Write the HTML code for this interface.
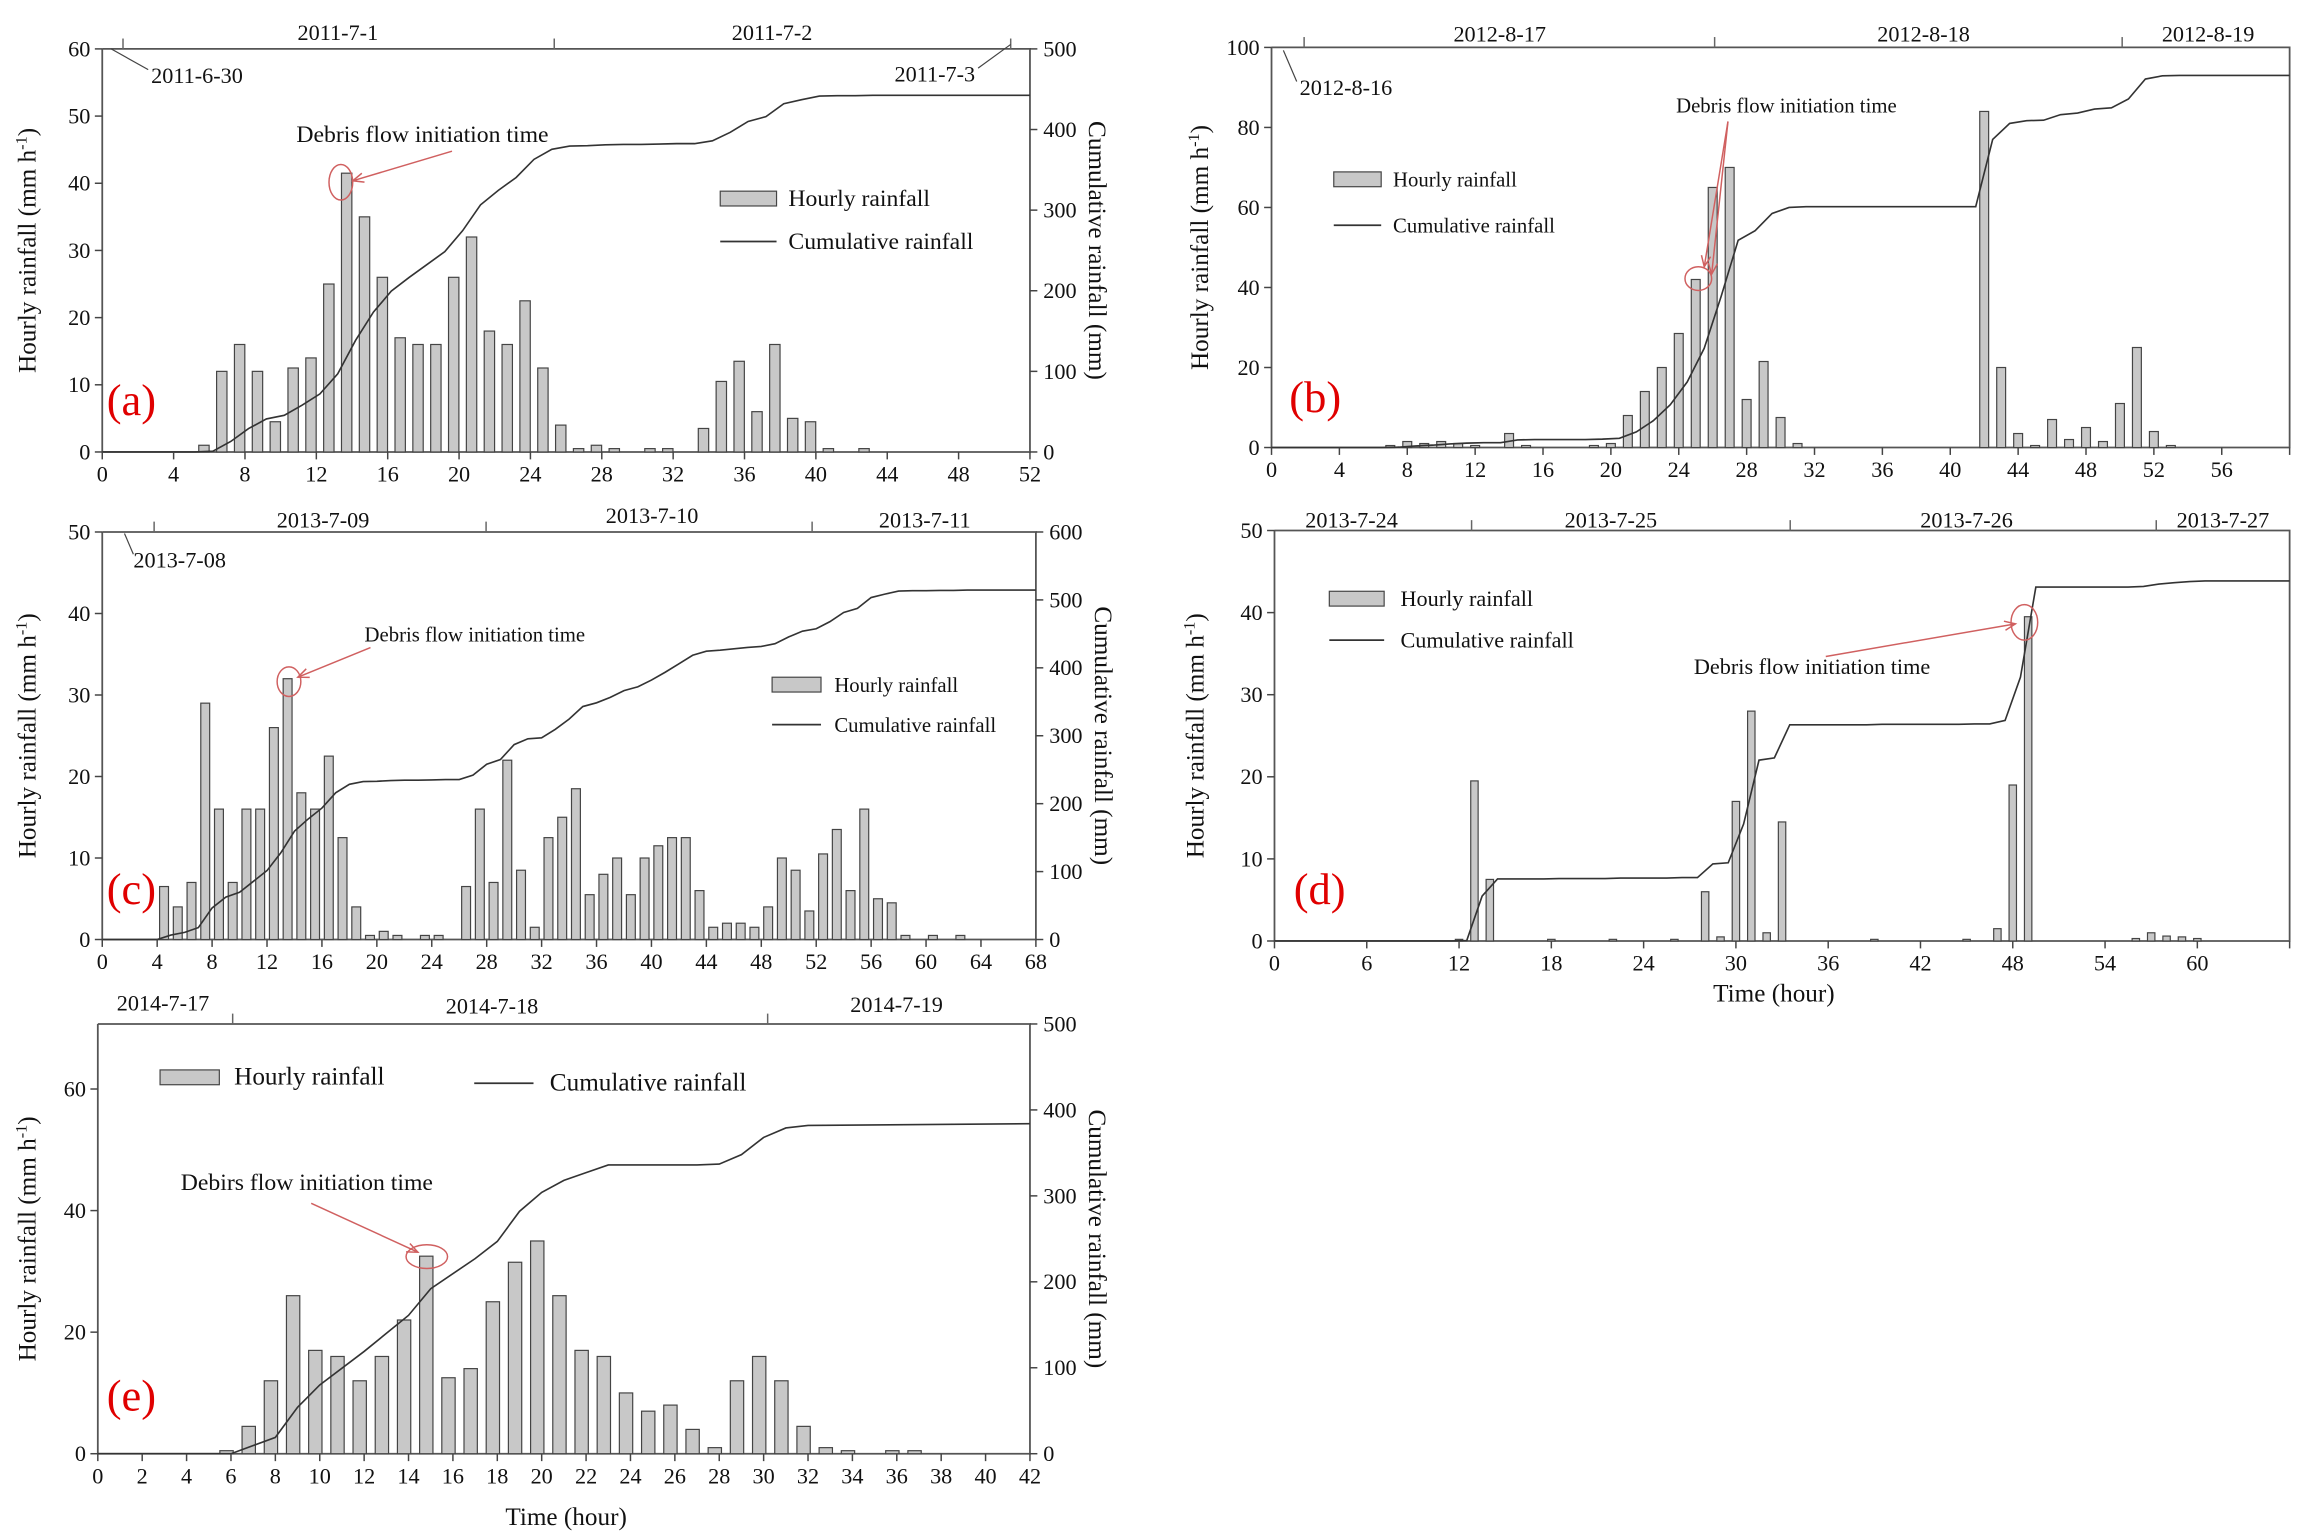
<!DOCTYPE html>
<html><head><meta charset="utf-8">
<style>
html,body{margin:0;padding:0;background:#fff;}
svg{display:block;font-family:"Liberation Serif",serif;}
</style></head>
<body>
<svg id="chart" width="2300" height="1533" viewBox="0 0 1552 1034.5" preserveAspectRatio="none" xmlns="http://www.w3.org/2000/svg">
<g id="root"></g>
</svg>
<script>
// Panel (a) data
const aHours = [5,6,7,8,9,10,11,12,13,14,15,16,17,18,19,20,21,22,23,24,25,26,27,28,30,31,33,34,35,36,37,38,39,40,42];
const aRain  = [1,12,16,12,4.5,12.5,14,25,41.5,35,26,17,16,16,26,32,18,16,22.5,12.5,4,0.5,1,0.5,0.5,0.5,3.5,10.5,13.5,6,16,5,4.5,0.5,0.5];
// Panel (b) data
const bHours = [7,8,9,10,11,12,14,15,19,20,21,22,23,24,25,26,27,28,29,30,31,42,43,44,45,46,47,48,49,50,51,52,53];
const bRain  = [0.5,1.5,1,1.5,1,0.5,3.5,0.5,0.5,1,8,14,20,28.5,42,65,70,12,21.5,7.5,1,84,20,3.5,0.5,7,2,5,1.5,11,25,4,0.5];
// Panel (c) data
const cHours = [4,5,6,7,8,9,10,11,12,13,14,15,16,17,18,19,20,21,23,24,26,27,28,29,30,31,32,33,34,35,36,37,38,39,40,41,42,43,44,45,46,47,48,49,50,51,52,53,54,55,56,57,58,60,62];
const cRain  = [6.5,4,7,29,16,7,16,16,26,32,18,16,22.5,12.5,4,0.5,1,0.5,0.5,0.5,6.5,16,7,22,8.5,1.5,12.5,15,18.5,5.5,8,10,5.5,10,11.5,12.5,12.5,6,1.5,2,2,1.5,4,10,8.5,3.5,10.5,13.5,6,16,5,4.5,0.5,0.5,0.5];
// Panel (d) data
const dHours = [12,13,14,18,22,26,28,29,30,31,32,33,39,45,47,48,49,56,57,58,59,60];
const dRain  = [0.2,19.5,7.5,0.2,0.2,0.2,6,0.5,17,28,1,14.5,0.2,0.2,1.5,19,39.5,0.3,1,0.6,0.5,0.3];
// Panel (e) data
const eHours = [6,7,8,9,10,11,12,13,14,15,16,17,18,19,20,21,22,23,24,25,26,27,28,29,30,31,32,33,34,36,37];
const eRain  = [0.5,4.5,12,26,17,16,12,16,22,32.5,12.5,14,25,31.5,35,26,17,16,10,7,8,4,1,12,16,12,4.5,1,0.5,0.5,0.5];
// Panel (e) cumulative curve
const eCumHours = [0,6,8,9,10,12,14,15,17,18,19,20,21,22,23,27,28,29,30,31,32,42];
const eCum      = [0,0,19,54,80,119,161,192,227,247,282,304,318,327,336,336,337,348,368,379,382,384];

const NS="http://www.w3.org/2000/svg";
const root=document.getElementById('root');
function mk(tag,attrs,parent,txt){const e=document.createElementNS(NS,tag);for(const k in attrs)e.setAttribute(k,attrs[k]);if(txt!==undefined)e.textContent=txt;(parent||root).appendChild(e);return e;}

function panel(p){
  const g=mk('g',{});
  
  
  const X=v=>p.x0+(v-p.xmin)/(p.xmax-p.xmin)*(p.x1-p.x0);
  const Y=v=>p.y0-(v)/(p.ymax)*(p.y0-p.y1);
  const YC=v=>p.y0-(v)/(p.cmax)*(p.y0-p.y1);
  const fr=mk('path',{d:`M${p.x0},${p.y1}V${p.y0}H${p.x1}V${p.y1}H${p.x0}`,fill:'none',stroke:'#555','stroke-width':1.2},g);
  
  
  const bw=p.bw;
  p.hours.forEach((h,i)=>{
    const v=p.rain[i];const cx=X(h+p.off);
    const r=mk('rect',{x:cx-bw/2,y:Y(v),width:bw,height:Math.max(0.5,p.y0-Y(v)),fill:'#c8c8c8',stroke:'#444','stroke-width':0.8},g);
    
    
  });
  let pts=[];
  if(p.cumH){
    p.cumH.forEach((h,i)=>pts.push([X(h),YC(p.cum[i])]));
  } else {
    let cum=0;pts=[[X(p.xmin),p.y0]];
    p.hours.forEach((h,i)=>{pts.push([X(h+p.off-0.5),YC(cum)]);cum+=p.rain[i];pts.push([X(h+p.off+0.5),YC(cum)]);});
    pts.push([p.x1,YC(cum)]);
  }
  const ln=mk('polyline',{points:pts.map(q=>q.join(',')).join(' '),fill:'none',stroke:'#333','stroke-width':1.1},g);
  
  
  for(let t=p.xmin;t<=p.xmax+0.001;t+=p.xstep){
    const x=X(t);
    mk('line',{x1:x,x2:x,y1:p.y0,y2:p.y0+5,stroke:'#444'},g);
    if(p.xlabMax===undefined||t<=p.xlabMax){
      const tx=mk('text',{x:x,y:p.y0+20,'font-size':15,'text-anchor':'middle',fill:'#111'},g,String(t));
      
      
    }
  }
  for(let t=0;t<=p.ymaxLab;t+=p.ystep){
    const y=Y(t);
    mk('line',{x1:p.x0-5,x2:p.x0,y1:y,y2:y,stroke:'#444'},g);
    const tx=mk('text',{x:p.x0-8,y:y+5,'font-size':15,'text-anchor':'end',fill:'#111'},g,String(t));
    
    
  }
  if(p.rightLabels){
    for(let t=0;t<=p.cmax;t+=100){
      const y=YC(t);
      mk('line',{x1:p.x1,x2:p.x1+5,y1:y,y2:y,stroke:'#444'},g);
      const tx=mk('text',{x:p.x1+9,y:y+5,'font-size':15,fill:'#111'},g,String(t));
      
      
    }
    const rt=mk('text',{x:0,y:0,'font-size':17,'text-anchor':'middle',transform:`translate(${p.x1+40},${(p.y0+p.y1)/2}) rotate(90)`,fill:'#111'},g,'Cumulative rainfall (mm)');
    
    
  }
  const lt=mk('text',{x:0,y:0,'font-size':17,'text-anchor':'middle',transform:`translate(${p.ltx},${(p.y0+p.y1)/2}) rotate(-90)`,fill:'#111'},g);
  
  
  mk('tspan',{},lt,'Hourly rainfall (mm h');
  mk('tspan',{dy:-6,'font-size':11},lt,'-1');
  mk('tspan',{dy:6},lt,')');
  const pl=mk('text',{x:p.letter[0],y:p.letter[1],'font-size':30,fill:'#e00000'},g,'('+p.id+')');
  
  
  p.divs.forEach(d=>mk('line',{x1:d,x2:d,y1:p.y1,y2:p.y1-7,stroke:'#666'},g));
  p.dates.forEach(d=>{const t=mk('text',{x:d[1],y:d[2],'font-size':15,'text-anchor':d[3]||'middle',fill:'#111'},g,d[0]);
    
    });
  (p.arrows||[]).forEach(a=>mk('line',{x1:a[0],y1:a[1],x2:a[2],y2:a[3],stroke:'#444','stroke-width':0.8},g));
  const L=p.leg;
  const lb=mk('rect',{x:L.bx,y:L.by-5,width:L.bw,height:10,fill:'#c8c8c8',stroke:'#444','stroke-width':0.8},g);
  
  
  const l1=mk('text',{x:L.tx1,y:L.by+5,'font-size':L.fs,fill:'#111'},g,'Hourly rainfall');
  
  
  mk('line',{x1:L.lx,x2:L.lx+L.bw,y1:L.ly,y2:L.ly,stroke:'#333','stroke-width':1.2},g);
  const l2=mk('text',{x:L.tx2,y:L.ly+5,'font-size':L.fs,fill:'#111'},g,'Cumulative rainfall');
  
  
  const A=p.ann;
  const at=mk('text',{x:A.tx,y:A.ty,'font-size':A.fs,fill:'#111'},g,A.text);
  
  
  mk('ellipse',{cx:A.ex,cy:A.ey,rx:A.rx,ry:A.ry,fill:'none',stroke:'#d06060','stroke-width':1},g);
  A.lines.forEach(l=>{mk('line',{x1:l[0],y1:l[1],x2:l[2],y2:l[3],stroke:'#d06060','stroke-width':1},g);
    const ang=Math.atan2(l[3]-l[1],l[2]-l[0]);const s=8;
    const p1=[l[2]-s*Math.cos(ang-0.4),l[3]-s*Math.sin(ang-0.4)],p2=[l[2]-s*Math.cos(ang+0.4),l[3]-s*Math.sin(ang+0.4)];
    mk('polyline',{points:`${p1} ${l[2]},${l[3]} ${p2}`,fill:'none',stroke:'#d06060','stroke-width':1},g);});
  if(p.xtitle){const t=mk('text',{x:p.xtitle[0],y:p.xtitle[1],'font-size':17,'text-anchor':'middle',fill:'#111'},g,'Time (hour)');
    
    }
}

panel({id:'a',hours:aHours,rain:aRain,off:0.7,x0:69,x1:695,xmin:0,xmax:52,xstep:4,y0:305,y1:33,ymax:60,ymaxLab:60,ystep:10,cmax:500,rightLabels:true,bw:7,ltx:24,letter:[72,280],
  divs:[83,374,682],dates:[['2011-7-1',228,27],['2011-7-2',521,27],['2011-6-30',102,56,'start'],['2011-7-3',658,55,'end']],
  arrows:[[100,47,75,33],[660,46,682,30]],
  leg:{bx:486,by:134,bw:38,tx1:532,lx:486,ly:163,tx2:532,fs:16},
  ann:{text:'Debris flow initiation time',tx:200,ty:96,fs:16,ex:230,ey:123,rx:8,ry:12,lines:[[305,102,238,122]]}});

panel({id:'b',hours:bHours,rain:bRain,off:0,x0:858,x1:1545,xmin:0,xmax:60,xstep:4,xlabMax:56,y0:302,y1:32,ymax:100,ymaxLab:100,ystep:20,cmax:500,rightLabels:false,bw:6,ltx:815,letter:[870,278],
  divs:[880,1157,1432],dates:[['2012-8-17',1012,28],['2012-8-18',1298,28],['2012-8-19',1490,28],['2012-8-16',877,64,'start']],
  arrows:[[875,55,866,34]],
  leg:{bx:900,by:121,bw:32,tx1:940,lx:900,ly:152,tx2:940,fs:14},
  ann:{text:'Debris flow initiation time',tx:1131,ty:76,fs:14,ex:1146,ey:188,rx:9,ry:8,lines:[[1166,82,1150,180],[1166,82,1155,185]]}});

panel({id:'c',hours:cHours,rain:cRain,off:0.5,x0:69,x1:699,xmin:0,xmax:68,xstep:4,y0:634,y1:359,ymax:50,ymaxLab:50,ystep:10,cmax:600,rightLabels:true,bw:6,ltx:24,letter:[72,610],
  divs:[104,328,548],dates:[['2013-7-09',218,356],['2013-7-10',440,353],['2013-7-11',624,356],['2013-7-08',90,383,'start']],
  arrows:[[90,374,84,360]],
  leg:{bx:521,by:462,bw:33,tx1:563,lx:521,ly:489,tx2:563,fs:14},
  ann:{text:'Debris flow initiation time',tx:246,ty:433,fs:14,ex:195,ey:460,rx:8,ry:10,lines:[[250,437,201,457]]}});

panel({id:'d',hours:dHours,rain:dRain,off:0,x0:860,x1:1545,xmin:0,xmax:66,xstep:6,xlabMax:60,y0:635,y1:358,ymax:50,ymaxLab:50,ystep:10,cmax:180,rightLabels:false,bw:5,ltx:812,letter:[873,610],
  divs:[993,1208,1455],dates:[['2013-7-24',912,356],['2013-7-25',1087,356],['2013-7-26',1327,356],['2013-7-27',1500,356]],
  leg:{bx:897,by:404,bw:37,tx1:945,lx:897,ly:432,tx2:945,fs:15},
  ann:{text:'Debris flow initiation time',tx:1143,ty:455,fs:15,ex:1366,ey:420,rx:9,ry:12,lines:[[1232,443,1360,421]]},
  xtitle:[1197,676]});

panel({id:'e',hours:eHours,rain:eRain,off:-0.2,cumH:eCumHours,cum:eCum,x0:66,x1:695,xmin:0,xmax:42,xstep:2,y0:981,y1:691,ymax:70.7,ymaxLab:60,ystep:20,cmax:500,rightLabels:true,bw:9,ltx:24,letter:[72,952],
  divs:[157,518],dates:[['2014-7-17',110,682],['2014-7-18',332,684],['2014-7-19',605,683]],
  leg:{bx:108,by:727,bw:40,tx1:158,lx:320,ly:731,tx2:371,fs:17},
  ann:{text:'Debirs flow initiation time',tx:122,ty:803,fs:16,ex:288,ey:848,rx:14,ry:8,lines:[[210,812,282,845]]},
  xtitle:[382,1029]});
</script>
</body></html>
